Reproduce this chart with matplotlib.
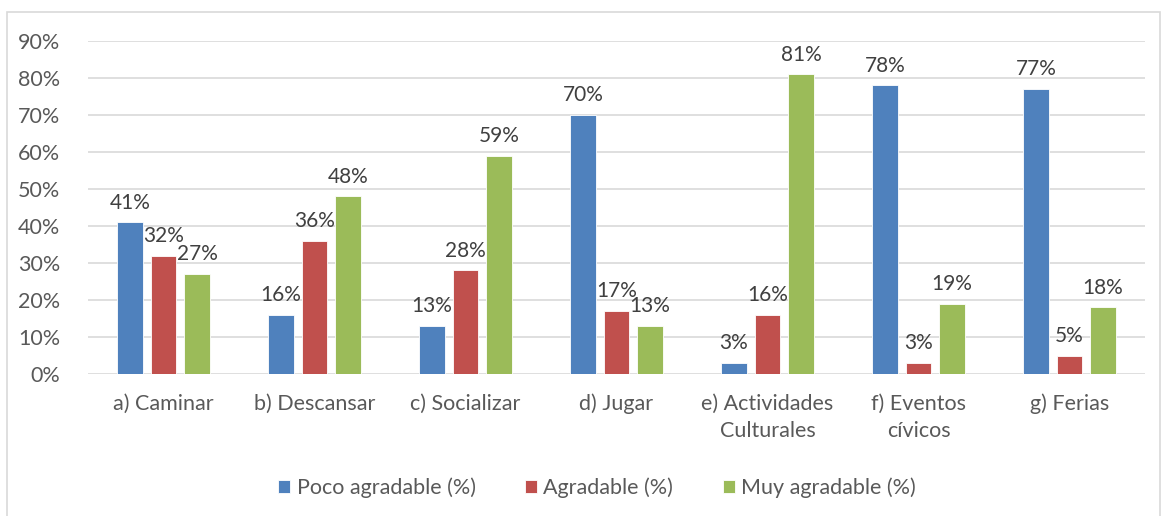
import numpy as np
import matplotlib.pyplot as plt
from matplotlib.patches import Rectangle

categories = ["a) Caminar", "b) Descansar", "c) Socializar", "d) Jugar",
              "e) Actividades\nCulturales", "f) Eventos\ncívicos", "g) Ferias"]
series_names = ["Poco agradable (%)", "Agradable (%)", "Muy agradable (%)"]
poco = [41, 16, 13, 70, 3, 78, 77]
agradable = [32, 36, 28, 17, 16, 3, 5]
muy = [27, 48, 59, 13, 81, 19, 18]
colors = ["#4F81BD", "#C0504D", "#9BBB59"]

plt.rcParams['font.family'] = ['Lato', 'DejaVu Sans']
text_color = "#595959"

fig = plt.figure(figsize=(11.65, 5.16), dpi=100)
W, H = 1165, 516
ax = fig.add_axes([88 / W, 1 - 374 / H, (1145 - 88) / W, (374 - 41) / H])

# chart border
fig.patches.append(Rectangle((7 / W, -0.1), (1160 - 7) / W, 1 - 12 / H + 0.1,
                             transform=fig.transFigure, fill=False,
                             edgecolor="#D9D9D9", linewidth=1.2))

x = np.arange(len(categories))
bar_w = 0.172
step = 0.222
for i, (vals, c, name) in enumerate(zip([poco, agradable, muy], colors, series_names)):
    pos = x + (i - 1) * step
    ax.bar(pos, vals, width=bar_w, color=c, edgecolor="white", linewidth=0.6,
           label=name, zorder=3)
    for p, v in zip(pos, vals):
        ax.annotate(f"{v}%", (p, v), xytext=(0, 7), textcoords="offset points",
                    ha="center", va="bottom", fontsize=15, color="#404040")

ax.set_xlim(-0.5, len(categories) - 0.5)
ax.set_ylim(0, 90)
ax.set_yticks(range(0, 91, 10))
ax.set_yticklabels([f"{t}%" for t in range(0, 91, 10)])
ax.set_xticks(x)
ax.set_xticklabels(categories, linespacing=1.45)
ax.tick_params(axis="both", length=0, labelsize=15.5, labelcolor=text_color)
ax.tick_params(axis="y", pad=20)
ax.tick_params(axis="x", pad=14)
ax.grid(axis="y", color="#D9D9D9", linewidth=1.2, zorder=0)
for s in ax.spines.values():
    s.set_visible(False)

ax.legend(loc="center", bbox_to_anchor=(597 / W, 1 - 488 / H),
          bbox_transform=fig.transFigure, ncol=3, frameon=False,
          fontsize=15.5, labelcolor=text_color, handlelength=0.55, handleheight=0.55,
          handletextpad=0.3, columnspacing=2.3)

fig.savefig("out.png", dpi=100)
